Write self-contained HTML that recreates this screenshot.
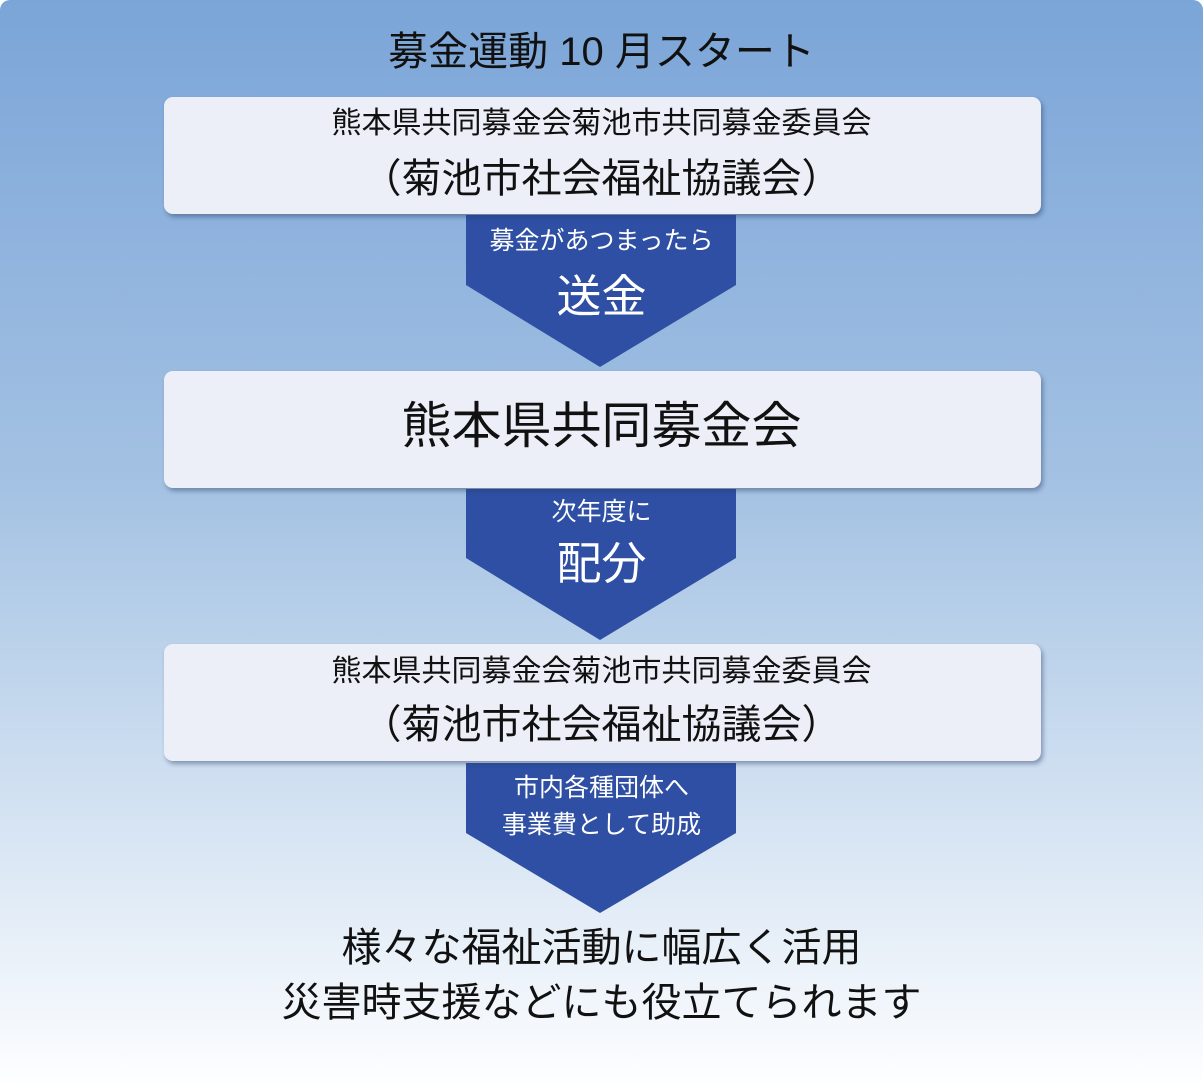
<!DOCTYPE html>
<html><head><meta charset="utf-8"><style>
html,body{margin:0;padding:0;background:#fff}
#bg{position:absolute;left:0;top:0;width:1203px;height:1084px;border-radius:10px;background:linear-gradient(#7ba5d8 0%,#a4c2e3 45%,#dce8f5 80%,#fdfeff 100%);overflow:hidden;font-family:"Liberation Sans","Noto Sans CJK JP",sans-serif}
.t{position:absolute;left:0;width:1203px;text-align:center;white-space:nowrap}
.box{position:absolute;left:164px;width:877px;height:117px;background:#eceff8;border-radius:9px;box-shadow:2px 3px 5px rgba(40,60,100,.45)}
svg{position:absolute;left:0;top:0}
</style></head><body><div id="bg">
<svg width="1203" height="1084">
<polygon points="466,215 736,215 736,285 600,367 466,285" fill="#2e4fa3"/>
<polygon points="466,489 736,489 736,558 600,640 466,558" fill="#2e4fa3"/>
<polygon points="466,763 736,763 736,833 600,913 466,833" fill="#2e4fa3"/>
</svg>
<div class="box" style="top:97px"></div>
<div class="box" style="top:371px"></div>
<div class="box" style="top:644px"></div>
<div class="t" style="top:19px;font-size:40px;color:#111">募金運動 10 月スタート</div>
<div class="t" style="top:98px;font-size:30px;color:#111">熊本県共同募金会菊池市共同募金委員会</div>
<div class="t" style="top:146px;font-size:40px;color:#111">（菊池市社会福祉協議会）</div>
<div class="t" style="top:221px;font-size:25px;color:#fff">募金があつまったら</div>
<div class="t" style="top:260px;font-size:45px;color:#fff">送金</div>
<div class="t" style="top:386px;font-size:50px;color:#111">熊本県共同募金会</div>
<div class="t" style="top:492px;font-size:25px;color:#fff">次年度に</div>
<div class="t" style="top:527px;font-size:45px;color:#fff">配分</div>
<div class="t" style="top:646px;font-size:30px;color:#111">熊本県共同募金会菊池市共同募金委員会</div>
<div class="t" style="top:692px;font-size:40px;color:#111">（菊池市社会福祉協議会）</div>
<div class="t" style="top:768px;font-size:25px;color:#fff">市内各種団体へ</div>
<div class="t" style="top:805px;font-size:25px;color:#fff">事業費として助成</div>
<div class="t" style="top:915px;font-size:40px;color:#111">様々な福祉活動に幅広く活用</div>
<div class="t" style="top:970px;font-size:40px;color:#111">災害時支援などにも役立てられます</div>
</div></body></html>
